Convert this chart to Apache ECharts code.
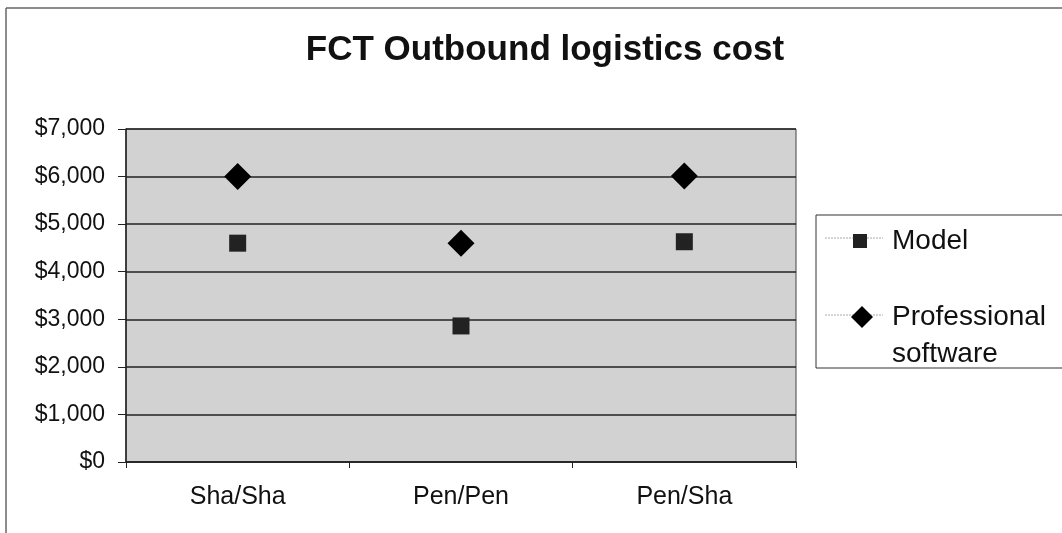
<!DOCTYPE html>
<html>
<head>
<meta charset="utf-8">
<script src="https://cdn.jsdelivr.net/npm/echarts@6/dist/echarts.min.js"></script>
<style>
  html, body { margin: 0; padding: 0; background: #fff; }
  #chart { width: 1062px; height: 533px; }
</style>
</head>
<body>
<div id="chart"></div>
<script>
// data
const categories = ['Sha/Sha', 'Pen/Pen', 'Pen/Sha']
const modelCost = [4600, 2860, 4630]
const softwareCost = [6000, 4600, 6010]
const yTicks = { min: 0, max: 7000, interval: 1000 }

const chart = echarts.init(document.getElementById('chart'))
const font = 'Arial, "Liberation Sans", sans-serif'
const legendFont = { fontFamily: font, fontSize: 28, color: '#111' }

chart.setOption({
  animation: false,
  title: {
    text: 'FCT Outbound logistics cost',
    left: 540,
    textAlign: 'center',
    top: 28,
    textStyle: { fontFamily: font, fontSize: 35, fontWeight: 'bold', color: '#111' }
  },
  grid: {
    left: 126,
    right: 266,
    top: 129,
    bottom: 71,
    show: true,
    backgroundColor: '#d2d2d2',
    borderColor: '#444',
    borderWidth: 1
  },
  legend: [
    {
      left: 848,
      top: 222,
      itemWidth: 14,
      itemHeight: 14,
      textStyle: Object.assign({ padding: [0, 0, 0, 20] }, legendFont),
      data: ['Model']
    },
    {
      left: 846,
      top: 298,
      itemWidth: 22,
      itemHeight: 22,
      textStyle: Object.assign({ padding: [0, 0, 0, 14] }, legendFont),
      formatter: () => 'Professional',
      data: ['Professional software']
    }
  ],
  xAxis: {
    type: 'category',
    data: categories,
    boundaryGap: true,
    axisLine: { lineStyle: { color: '#222', width: 1.5 } },
    axisTick: { show: true, length: 6, lineStyle: { color: '#222' } },
    axisLabel: { fontFamily: font, fontSize: 25, color: '#111', margin: 23 },
    splitLine: { show: false }
  },
  yAxis: {
    type: 'value',
    min: yTicks.min,
    max: yTicks.max,
    interval: yTicks.interval,
    axisLine: { show: true, lineStyle: { color: '#222', width: 1.5 } },
    axisTick: { show: true, length: 8, lineStyle: { color: '#222' } },
    axisLabel: {
      fontFamily: font, fontSize: 23, color: '#111', margin: 21,
      formatter: v => '$' + v.toLocaleString('en-US')
    },
    splitLine: { lineStyle: { color: '#222', width: 1.5 } }
  },
  graphic: [
    // outer chart frame (left + top edges visible in the scan)
    { type: 'line', shape: { x1: 6, y1: 8, x2: 6, y2: 533 }, style: { stroke: '#666', lineWidth: 1.5 } },
    { type: 'line', shape: { x1: 6, y1: 8, x2: 1062, y2: 8 }, style: { stroke: '#666', lineWidth: 1.5 } },
    // legend box and its faint marker lines
    { type: 'rect', shape: { x: 816, y: 215, width: 260, height: 153 }, style: { fill: '#fff', stroke: '#333', lineWidth: 1 }, z: -1 },
    { type: 'line', shape: { x1: 825, y1: 238, x2: 883, y2: 238 }, style: { stroke: '#aaa', lineWidth: 1, lineDash: [2, 1] }, z: 0 },
    { type: 'line', shape: { x1: 825, y1: 315, x2: 883, y2: 315 }, style: { stroke: '#aaa', lineWidth: 1, lineDash: [2, 1] }, z: 0 },
    { type: 'text', x: 892, y: 354, style: { text: 'software', fill: '#111', font: '28px ' + font, textVerticalAlign: 'middle' }, z: 10 }
  ],
  series: [
    {
      name: 'Model',
      type: 'scatter',
      symbol: 'rect',
      symbolSize: 17,
      itemStyle: { color: '#222', opacity: 1 },
      data: modelCost
    },
    {
      name: 'Professional software',
      type: 'scatter',
      symbol: 'diamond',
      symbolSize: 27,
      itemStyle: { color: '#000', opacity: 1 },
      data: softwareCost
    }
  ]
})
</script>
</body>
</html>
